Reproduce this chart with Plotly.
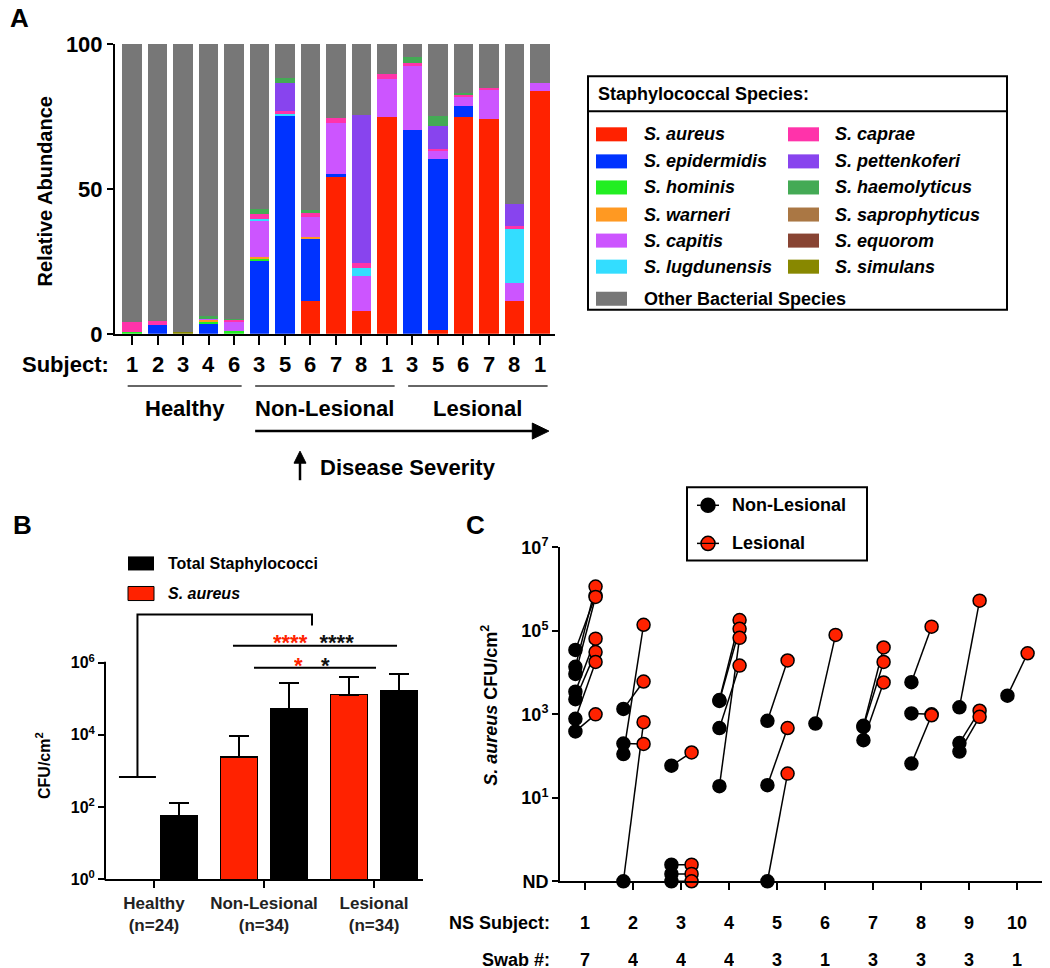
import plotly.graph_objects as go

W, H = 1050, 982
FONT = "Liberation Sans, Arial, Helvetica, sans-serif"

# ---------------- Panel A data ----------------
subjects_a = ["1", "2", "3", "4", "6", "3", "5", "6", "7", "8", "1", "3", "5", "6", "7", "8", "1"]
group_names = ["Healthy", "Non-Lesional", "Lesional"]
group_sizes = [5, 6, 6]

species = ["S. aureus", "S. epidermidis", "S. hominis", "S. warneri", "S. capitis", "S. lugdunensis",
           "S. caprae", "S. pettenkoferi", "S. haemolyticus", "S. saprophyticus", "S. equorom",
           "S. simulans", "Other Bacterial Species"]
species_colors = ["#FF2200", "#0033FF", "#22EE22", "#FF9922", "#CC55FF", "#33DDFF",
                  "#FF33AA", "#8844EE", "#44AA55", "#AA7744", "#884433", "#888800", "#777777"]

aureus =        [0, 0, 0, 0, 0,   0, 0, 11.2, 54.3, 7.9, 74.8,   0, 1.2, 74.8, 74.3, 11.2, 83.8]
epidermidis =   [0, 2.9, 0, 3.7, 0,   25.2, 75.4, 21.5, 0.7, 0, 0,   70.3, 59.1, 3.8, 0, 0, 0]
hominis =       [0.8, 0, 0, 0.6, 1.0,   0.8, 0, 0, 0, 0, 0,   0, 0, 0, 0, 0, 0]
warneri =       [0, 0, 0, 0.6, 0,   0.4, 0, 0.8, 0, 0, 0,   0, 0, 0, 0, 0, 0]
capitis =       [0, 0, 0, 0.3, 3.3,   12.7, 0, 6.7, 17.8, 12.0, 13.3,   22.0, 2.9, 3.2, 9.7, 6.4, 2.7]
lugdunensis =   [0, 0, 0, 0, 0,   0.6, 0.4, 0, 0, 2.9, 0,   0, 0, 0, 0, 18.5, 0]
caprae =        [3.2, 1.5, 0, 0, 0.6,   1.7, 1.1, 1.6, 1.8, 1.8, 1.7,   1.3, 0.6, 0.6, 0.7, 1.1, 0]
pettenkoferi =  [0, 0, 0, 0, 0,   0, 9.5, 0, 0, 50.8, 0,   0, 8.1, 0, 0, 7.5, 0]
haemolyticus =  [0, 0, 0, 0.8, 0.3,   1.7, 1.8, 0.8, 0, 0, 0,   1.8, 3.2, 0.6, 0, 0, 0]
saprophyticus = [0] * 17
equorom =       [0] * 17
simulans =      [0, 0, 0.5, 0, 0,   0, 0, 0, 0, 0, 0,   0, 0, 0, 0, 0, 0]
other =         [96.0, 95.6, 99.5, 94.0, 94.8,   56.9, 11.8, 57.4, 25.4, 24.6, 10.2,   4.6, 24.9, 17.0, 15.3, 55.3, 13.5]
abundance = [aureus, epidermidis, hominis, warneri, capitis, lugdunensis, caprae, pettenkoferi,
             haemolyticus, saprophyticus, equorom, simulans, other]

# ---------------- Panel B data ----------------
groups_b = ["Healthy<br>(n=24)", "Non-Lesional<br>(n=34)", "Lesional<br>(n=34)"]
aureus_mean = [0, 2450, 129000]
aureus_err_top = [680, 9300, 410000]
total_mean = [56, 52000, 166000]
total_err_top = [126, 277000, 490000]

# ---------------- Panel C data ----------------
ns_subjects = [1, 2, 3, 4, 5, 6, 7, 8, 9, 10]
swab_counts = [7, 4, 4, 4, 3, 1, 3, 3, 3, 1]
ND = 0.1
nonlesional = [
    [35000, 13800, 9300, 3500, 2300, 780, 390],
    [1350, 200, 112, ND],
    [59, 0.25, 0.15, ND],
    [2200, 2100, 470, 19],
    [700, 20, ND],
    [600],
    [530, 500, 240],
    [5900, 1050, 66],
    [1470, 205, 128],
    [2800],
]
lesional = [
    [700000, 1150000, 650000, 65000, 31000, 18000, 1000],
    [6100, 195, 140000, 650],
    [122, 0.25, 0.15, ND],
    [182000, 112000, 14700, 68000],
    [19500, 470, 38],
    [80000],
    [40000, 18000, 5800],
    [126000, 1000, 950],
    [530000, 1220, 870],
    [29000],
]

# vertical calibration of the photographed page
VS, VO = 0.972, 13.0


def fx(x):
    return x / W


def fy(y):
    return 1 - ((y - VO) / VS) / H


shapes = []
ann = []


def add_line(x0, y0, x1, y1, color="black", w=2):
    shapes.append(dict(type="line", xref="paper", yref="paper", x0=fx(x0), y0=fy(y0),
                       x1=fx(x1), y1=fy(y1), line=dict(color=color, width=w)))


def add_rect(x0, y0, x1, y1, fill, lc="rgba(0,0,0,0)", lw=0):
    shapes.append(dict(type="rect", xref="paper", yref="paper", x0=fx(x0), x1=fx(x1),
                       y0=fy(y1), y1=fy(y0), fillcolor=fill, line=dict(color=lc, width=lw)))


def add_path(pts, fill="black"):
    p = "M " + " L ".join(f"{fx(a)},{fy(b)}" for a, b in pts) + " Z"
    shapes.append(dict(type="path", xref="paper", yref="paper", path=p, fillcolor=fill,
                       line=dict(color=fill, width=1)))


def add_text(x, y, text, size, xanchor="center", yanchor="middle", color="black", angle=0, **kw):
    d = dict(xref="paper", yref="paper", x=fx(x), y=fy(y), text=text, showarrow=False,
             font=dict(family=FONT, size=size, color=color), xanchor=xanchor,
             yanchor=yanchor, textangle=angle)
    d.update(kw)
    ann.append(d)


fig = go.Figure()

# ---------------- Panel A ----------------
xa = list(range(len(subjects_a)))
for name, col, vals in zip(species, species_colors, abundance):
    fig.add_trace(go.Bar(x=xa, y=vals, width=0.78, marker=dict(color=col, line=dict(width=0)),
                         name=name, xaxis="x", yaxis="y", showlegend=False))

for i, s in enumerate(subjects_a):
    ann.append(dict(xref="x", yref="paper", x=i, y=fy(365), text=f"<b>{s}</b>", showarrow=False,
                    font=dict(family=FONT, size=22, color="black"), xanchor="center", yanchor="middle"))
add_text(111, 365, "<b>Subject:</b>", 22, xanchor="right")

start = 0
group_spans = []
for g, n in zip(group_names, group_sizes):
    i0, i1 = start, start + n - 1
    a, b = i0 - 0.17, i1 + 0.3
    group_spans.append((a, b))
    shapes.append(dict(type="line", xref="x", yref="paper", x0=a, x1=b, y0=fy(386), y1=fy(386),
                       line=dict(color="#666666", width=2)))
    ann.append(dict(xref="x", yref="paper", x=(a + b) / 2, y=fy(408), text=f"<b>{g}</b>",
                    showarrow=False, font=dict(family=FONT, size=22, color="black"),
                    xanchor="center", yanchor="middle"))
    start += n

# disease severity arrow
ax0 = group_spans[1][0]
tip = group_spans[2][1] + 0.05
shapes.append(dict(type="line", xref="x", yref="paper", x0=ax0, x1=tip - 0.5, y0=fy(431), y1=fy(431),
                   line=dict(color="black", width=2.5)))
shapes.append(dict(type="path", xref="x", yref="paper",
                   path=f"M {tip - 0.65},{fy(423)} L {tip},{fy(431)} L {tip - 0.65},{fy(439)} Z",
                   fillcolor="black", line=dict(color="black", width=1)))
add_line(300, 480, 300, 462, w=2.5)
add_path([(294, 463), (300, 451), (306, 463)])
add_text(318, 467, "<b>Disease Severity</b>", 22, xanchor="left")

add_text(45, 192, "<b>Relative Abundance</b>", 20, angle=-90)
add_text(19, 19, "<b>A</b>", 26)

# Legend A
add_rect(588, 77, 1007, 310, "rgba(0,0,0,0)", "black", 2)
add_line(588, 112, 1007, 112)
add_text(596, 95, "<b>Staphylococcal Species:</b>", 18, xanchor="left")
row_y = [135, 162, 188, 215, 241, 267]
for k in range(12):
    col, row = divmod(k, 6)
    yy = row_y[row]
    sx = 596 if col == 0 else 788
    tx = 642 if col == 0 else 833
    add_rect(sx, yy - 7, sx + 31, yy + 7, species_colors[k])
    add_text(tx, yy, f"<b><i>{species[k]}</i></b>", 18, xanchor="left")
add_rect(596, 292, 627, 306, species_colors[12])
add_text(642, 299, f"<b>{species[12]}</b>", 18, xanchor="left")

# ---------------- Panel B ----------------
off = 0.227
bw = 0.336
rx = [i - off for i, v in enumerate(aureus_mean) if v > 0]
ry = [v for v in aureus_mean if v > 0]
re = [t - v for t, v in zip(aureus_err_top, aureus_mean) if v > 0]
fig.add_trace(go.Bar(x=rx, y=ry, width=bw, xaxis="x2", yaxis="y2", showlegend=False,
                     marker=dict(color="#FF2200", line=dict(color="black", width=1.5)),
                     error_y=dict(type="data", symmetric=False, array=re, arrayminus=[0] * len(re),
                                  color="black", thickness=2, width=10)))
bx = [i + off for i in range(len(total_mean))]
be = [t - v for t, v in zip(total_err_top, total_mean)]
fig.add_trace(go.Bar(x=bx, y=total_mean, width=bw, xaxis="x2", yaxis="y2", showlegend=False,
                     marker=dict(color="black", line=dict(color="black", width=1.5)),
                     error_y=dict(type="data", symmetric=False, array=be, arrayminus=[0] * len(be),
                                  color="black", thickness=2, width=10)))

# healthy S. aureus (not detected) SD cap and comparison bracket
hc = -0.15
fig.add_trace(go.Scatter(x=[hc - 0.168, hc + 0.168], y=[aureus_err_top[0]] * 2, mode="lines",
                         line=dict(color="black", width=2), xaxis="x2", yaxis="y2", showlegend=False))
fig.add_trace(go.Scatter(x=[hc, hc, 1.436, 1.436],
                         y=[aureus_err_top[0], 10 ** 7.33, 10 ** 7.33, 10 ** 7.03], mode="lines",
                         line=dict(color="black", width=2), xaxis="x2", yaxis="y2", showlegend=False))
fig.add_trace(go.Scatter(x=[0.718, 2.209], y=[10 ** 6.47] * 2, mode="lines",
                         line=dict(color="black", width=2), xaxis="x2", yaxis="y2", showlegend=False))
fig.add_trace(go.Scatter(x=[0.909, 2.018], y=[10 ** 5.86] * 2, mode="lines",
                         line=dict(color="black", width=2), xaxis="x2", yaxis="y2", showlegend=False))

add_text(313, 637, '<b><span style="color:#FF2200">****</span>&nbsp; ****</b>', 22, color="#111111",
         height=15, valign="top")
add_text(312, 660, '<b><span style="color:#FF2200">*</span>&nbsp;&nbsp;&nbsp;*</b>', 22, color="#111111",
         height=15, valign="top")

add_line(105, 879, 105, 661)  # y axis line of B (10^0 to 10^6)

add_rect(128, 556, 154, 570, "black")
add_text(166, 563, "<b>Total Staphylococci</b>", 16, xanchor="left")
add_rect(128, 586, 154, 600, "#FF2200", "black", 1)
add_text(166, 593, "<b><i>S. aureus</i></b>", 16, xanchor="left")

add_text(43, 765, "<b>CFU/cm<sup>2</sup></b>", 16, angle=-90)
add_text(22, 525, "<b>B</b>", 26)

# ---------------- Panel C ----------------
lx, ly = [], []
for s, nl, le in zip(ns_subjects, nonlesional, lesional):
    for a, b in zip(nl, le):
        lx += [s - 0.2, s + 0.22, None]
        ly += [a, b, None]
fig.add_trace(go.Scatter(x=lx, y=ly, mode="lines", line=dict(color="black", width=1.5),
                         xaxis="x3", yaxis="y3", showlegend=False, connectgaps=False))
nx = [s - 0.2 for s, nl in zip(ns_subjects, nonlesional) for _ in nl]
ny = [v for nl in nonlesional for v in nl]
fig.add_trace(go.Scatter(x=nx, y=ny, mode="markers", cliponaxis=False, xaxis="x3", yaxis="y3",
                         showlegend=False,
                         marker=dict(size=13, color="black", line=dict(color="black", width=1.5))))
lxx = [s + 0.22 for s, le in zip(ns_subjects, lesional) for _ in le]
lyy = [v for le in lesional for v in le]
fig.add_trace(go.Scatter(x=lxx, y=lyy, mode="markers", cliponaxis=False, xaxis="x3", yaxis="y3",
                         showlegend=False,
                         marker=dict(size=13, color="#FF2200", line=dict(color="black", width=1.5))))

for s, n in zip(ns_subjects, swab_counts):
    ann.append(dict(xref="x3", yref="paper", x=s, y=fy(922), text=f"<b>{s}</b>", showarrow=False,
                    font=dict(family=FONT, size=18, color="black"), xanchor="center", yanchor="middle"))
    ann.append(dict(xref="x3", yref="paper", x=s, y=fy(958), text=f"<b>{n}</b>", showarrow=False,
                    font=dict(family=FONT, size=18, color="black"), xanchor="center", yanchor="middle",
                    height=15, valign="middle"))
add_text(552, 922, "<b>NS Subject:</b>", 18, xanchor="right")
add_text(552, 958, "<b>Swab #:</b>", 18, xanchor="right", height=15, valign="middle")

add_text(490, 705, "<b><i>S. aureus</i> CFU/cm<sup>2</sup></b>", 18, angle=-90)
add_text(475, 525, "<b>C</b>", 26)

# Legend C
add_rect(687, 487, 867, 560, "rgba(0,0,0,0)", "black", 2)
for yy, fc, lab in [(505, "black", "Non-Lesional"), (543, "#FF2200", "Lesional")]:
    add_line(697, yy, 719, yy, w=1.5)
    shapes.append(dict(type="circle", xref="paper", yref="paper", x0=fx(701), x1=fx(715),
                       y0=fy(yy + 7), y1=fy(yy - 7), fillcolor=fc, line=dict(color="black", width=1.5)))
    add_line(701, yy, 715, yy, w=1.2)
    add_text(730, yy, f"<b>{lab}</b>", 18, xanchor="left")

# ---------------- Layout ----------------
axis_common = dict(showgrid=False, zeroline=False, linecolor="black", linewidth=2,
                   ticks="outside", tickwidth=2, tickcolor="black")

fig.update_layout(
    width=W, height=H, autosize=False, margin=dict(l=0, r=0, t=0, b=0, pad=0),
    paper_bgcolor="white", plot_bgcolor="white", showlegend=False, barmode="stack",
    font=dict(family=FONT, color="black"),
    xaxis=dict(domain=[fx(115), fx(555)], range=[-0.667, 16.59], showline=True, ticklen=9,
               tickvals=xa, showticklabels=False, anchor="y", **axis_common),
    yaxis=dict(domain=[fy(334), fy(45)], range=[0, 100], showline=True, ticklen=6,
               tickvals=[0, 50, 100], anchor="x",
               tickfont=dict(family=FONT, size=22, color="black", weight="bold"), **axis_common),
    xaxis2=dict(domain=[fx(105), fx(423)], range=[-0.445, 2.445], showline=True, ticklen=7,
                tickvals=[0, 1, 2], ticktext=groups_b, anchor="y2",
                tickfont=dict(family=FONT, size=17, color="#222222", weight="bold"), **axis_common),
    yaxis2=dict(domain=[fy(878), fy(600)], type="log", range=[0, 7.72], showline=False, ticklen=6,
                tickvals=[1, 100, 1e4, 1e6],
                ticktext=["10<sup>0</sup>", "10<sup>2</sup>", "10<sup>4</sup>", "10<sup>6</sup>"],
                anchor="x2", tickfont=dict(family=FONT, size=16, color="black", weight="bold"),
                **axis_common),
    xaxis3=dict(domain=[fx(560), fx(1042)], range=[0.479, 10.52], showline=True, ticklen=7,
                tickvals=ns_subjects, showticklabels=False, anchor="y3", **axis_common),
    yaxis3=dict(domain=[fy(880), fy(547)], type="log", range=[-1, 7], showline=True, ticklen=6,
                tickvals=[ND, 10, 1e3, 1e5, 1e7],
                ticktext=["ND", "10<sup>1</sup>", "10<sup>3</sup>", "10<sup>5</sup>", "10<sup>7</sup>"],
                anchor="x3", tickfont=dict(family=FONT, size=18, color="black", weight="bold"),
                **axis_common),
    shapes=shapes,
    annotations=ann,
)

fig.write_html(
    "out.html",
    config={"displayModeBar": False},
    post_script="document.body.style.margin='0';document.body.style.padding='0';"
                "document.documentElement.style.overflow='hidden';document.body.style.overflow='hidden';",
)
